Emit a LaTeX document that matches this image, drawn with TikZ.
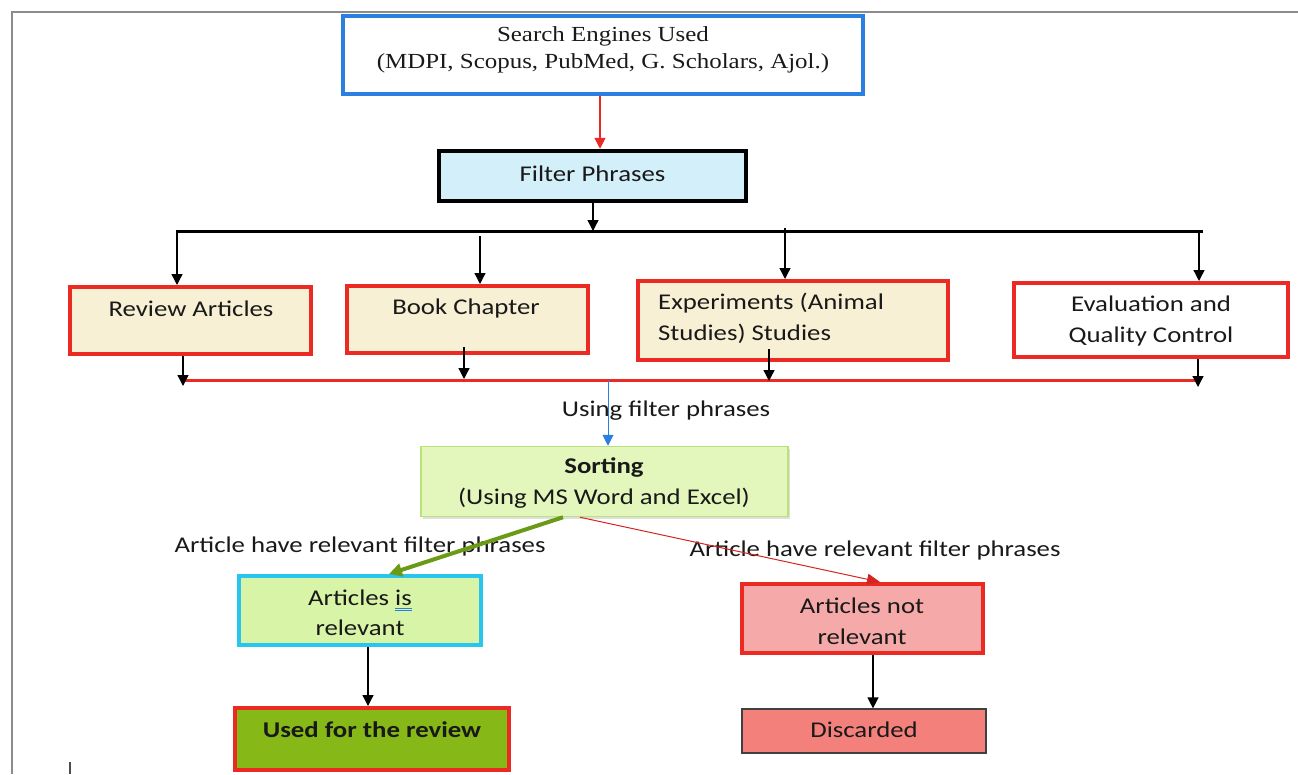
\documentclass[tikz,border=0pt]{standalone}
\usepackage{graphicx}
\usepackage{fontspec}
\setmainfont{Carlito}
\newfontfamily\tnr{Liberation Serif}
\usetikzlibrary{arrows.meta,shadows}
\definecolor{bblue}{HTML}{2B7FE0}
\definecolor{rred}{HTML}{EC2A24}
\definecolor{fpfill}{HTML}{D3EFF9}
\definecolor{cream}{HTML}{F7F0D4}
\definecolor{sortfill}{HTML}{E3F7BD}
\definecolor{sortdraw}{HTML}{B8E27A}
\definecolor{relfill}{HTML}{D8F4A6}
\definecolor{reldraw}{HTML}{29C5EC}
\definecolor{nrfill}{HTML}{F5A9A8}
\definecolor{usedfill}{HTML}{86B817}
\definecolor{discfill}{HTML}{F3807B}
\definecolor{garrow}{HTML}{6A9A16}
\newcommand\sx[1]{\scalebox{1.19}[1]{#1}}
\newcommand\tx[1]{\scalebox{1.16}[1]{#1}}
\newcommand\dbl[1]{\setbox0\hbox{#1}\makebox[0pt][l]{\textcolor{bblue}{\rule[-3pt]{\wd0}{0.9pt}}}\makebox[0pt][l]{\textcolor{bblue}{\rule[-5.6pt]{\wd0}{0.9pt}}}\box0}
\begin{document}
\begin{tikzpicture}[x=1pt,y=-1pt,
  boxn/.style={draw=rred, line width=4pt, inner sep=0pt},
  txt/.style={font=\fontsize{22.5}{30.5}\selectfont, inner sep=0pt, text=black!90},
  arr/.style={-{Triangle[width=11pt,length=11pt]}, line width=1.3pt, black},
  redarr/.style={-{Triangle[width=11pt,length=11pt]}, line width=1.6pt, rred},
  bluearr/.style={-{Triangle[width=11pt,length=11pt]}, line width=1pt, bblue},
  greenarr/.style={-{Triangle[width=13pt,length=13pt]}, line width=4pt, garrow},
  thinred/.style={-{Triangle[width=11pt,length=13pt]}, line width=1pt, rred!90!black}]
\useasboundingbox (0,0) rectangle (1298,774);
% page frame
\draw[line width=2pt, black!45] (12,774) -- (12,12) -- (1298,12);
\draw[line width=1.5pt, black!70] (70,762) -- (70,774);
% boxes
\node[draw=bblue, line width=4pt, inner sep=0pt, minimum width=520pt, minimum height=78pt] (top) at (603,55) {};
\node[txt, font=\tnr\fontsize{21.5}{27}\selectfont, align=center] (toptxt) at (603,50) {\tx{Search Engines Used}\\\tx{(MDPI, Scopus, PubMed, G. Scholars, Ajol.)}};
\node[draw=black, line width=4.5pt, fill=fpfill, inner sep=0pt, minimum width=307pt, minimum height=50pt, drop shadow={shadow xshift=1.5pt, shadow yshift=-1.5pt, opacity=0.25}] (filter) at (592.5,176) {};
\node[txt] (filtertxt) at (592.5,174) {\sx{Filter Phrases}};

\node[boxn, fill=cream, minimum width=241pt, minimum height=67pt] (rev) at (190.5,320.5) {};
\node[txt] (revtxt) at (191,309) {\sx{Review Articles}};
\node[boxn, fill=cream, minimum width=241pt, minimum height=67pt] (book) at (467.5,319.5) {};
\node[txt] (booktxt) at (466,308) {\sx{Book Chapter}};
\node[boxn, fill=cream, minimum width=310pt, minimum height=79pt] (exp) at (793,320.5) {};
\node[txt, align=left, anchor=west] (exptxt) at (658,318.5) {\sx{Experiments (Animal}\\\sx{Studies) Studies}};
\node[boxn, fill=white, minimum width=274pt, minimum height=74pt] (eval) at (1151,320) {};
\node[txt, align=center] (evaltxt) at (1151,321) {\sx{Evaluation and}\\\sx{Quality Control}};

\node[draw=sortdraw, line width=1.5pt, fill=sortfill, inner sep=0pt, minimum width=367pt, minimum height=70pt, drop shadow={shadow xshift=2pt, shadow yshift=-2pt, opacity=0.25}] (sort) at (604.5,481.5) {};
\node[txt, align=center] (sorttxt) at (604,483) {\sx{\bfseries Sorting}\\\sx{(Using MS Word and Excel)}};

\node[draw=reldraw, line width=4pt, fill=relfill, inner sep=0pt, minimum width=242pt, minimum height=69pt] (rel) at (360,610.5) {};
\node[txt, align=center] (reltxt) at (360,613) {\sx{Articles \dbl{is}}\\\sx{relevant}};
\node[boxn, fill=nrfill, minimum width=241pt, minimum height=69pt] (notrel) at (862.5,618.5) {};
\node[txt, align=center] (notreltxt) at (862,621.5) {\sx{Articles not}\\\sx{relevant}};
\node[boxn, fill=usedfill, minimum width=274pt, minimum height=62pt] (used) at (372,739) {};
\node[txt, font=\bfseries\fontsize{22.5}{30.5}\selectfont] (usedtxt) at (372,730) {\sx{Used for the review}};
\node[draw=black!75, line width=1.2pt, fill=discfill, inner sep=0pt, minimum width=244pt, minimum height=44pt] (disc) at (864,731) {};
\node[txt] (disctxt) at (864,730) {\sx{Discarded}};

% labels
\node[txt] (lab1) at (666,411) {\sx{Using filter phrases}};
\node[txt] (lab2) at (360,546) {\sx{Article have relevant filter phrases}};
\node[txt] (lab3) at (875,550) {\sx{Article have relevant filter phrases}};

% coordinates
\coordinate (c0) at (600,0);
\coordinate (fb) at (593,231);
\coordinate (barL) at (176,231);
\coordinate (barR) at (1203,231);
\coordinate (d1) at (177,231);
\coordinate (d2) at (480,236);
\coordinate (d3) at (785,228);
\coordinate (d4) at (1199,231);
\coordinate (rbarL) at (183,380);
\coordinate (rbarR) at (1195,380);
\coordinate (u1) at (183,386);
\coordinate (u2) at (464,379);
\coordinate (u3) at (769,381);
\coordinate (u4) at (1198,387);
\coordinate (sb) at (608,380);
\coordinate (g1) at (563,0);
\coordinate (g2) at (389,0);
\coordinate (r1) at (580,0);
\coordinate (r2) at (880,0);
\coordinate (a1) at (368,0);
\coordinate (a2) at (873,0);

% connectors
\draw[redarr] (top.south -| c0) -- (filter.north -| c0);
\draw[arr] (filter.south -| fb) -- (fb);
\draw[line width=3pt] (barL) -- (barR);
\draw[arr] (d1) -- (rev.north -| d1);
\draw[arr] (d2) -- (book.north -| d2);
\draw[arr] (d3) -- (exp.north -| d3);
\draw[arr] (d4) -- (eval.north -| d4);
\draw[line width=3pt, rred] (rbarL) -- (rbarR);
\draw[arr] (rev.south -| u1) -- (u1);
\draw[arr] ([yshift=8pt]book.south -| u2) -- (u2);
\draw[arr] ([yshift=13pt]exp.south -| u3) -- (u3);
\draw[arr] (eval.south -| u4) -- (u4);
\draw[bluearr] (sb) -- (sort.north -| sb);
\draw[greenarr] (sort.south -| g1) -- (rel.north -| g2);
\draw[thinred] (sort.south -| r1) -- (notrel.north -| r2);
\draw[arr] (rel.south -| a1) -- (used.north -| a1);
\draw[arr] (notrel.south -| a2) -- (disc.north -| a2);
\end{tikzpicture}
\end{document}
